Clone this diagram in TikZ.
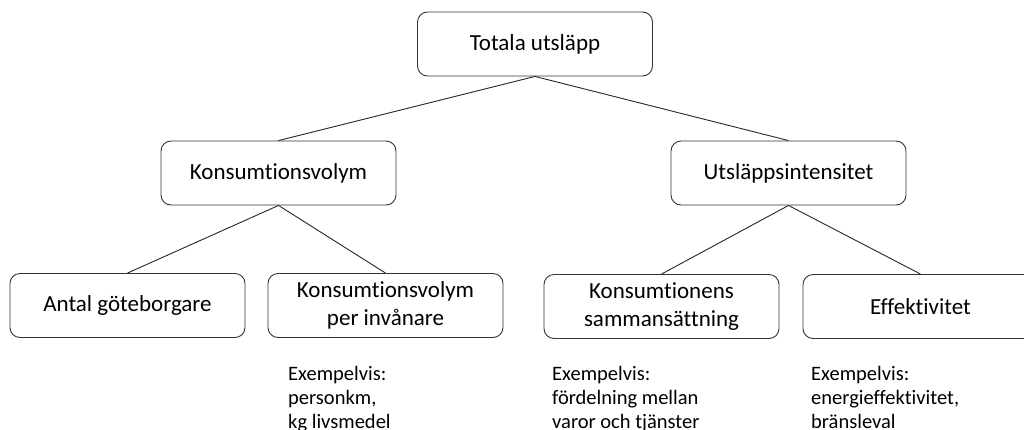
\documentclass[tikz,border=0pt]{standalone}
\usepackage{fontspec}
\setmainfont[Ligatures={NoCommon}]{Carlito}
\usetikzlibrary{shapes,arrows,positioning}

\begin{document}
\begin{tikzpicture}[x=1pt, y=1pt, auto]
    % Define styles
    \tikzstyle{box} = [rectangle, rounded corners=10pt, minimum width=235pt, minimum height=64pt, text centered, align=center, draw=black!80, line width=0.9pt, fill=white, font=\fontsize{23}{28}\selectfont]
    \tikzstyle{note} = [anchor=base west, align=left, inner sep=0pt, font=\fontsize{20.5}{24}\selectfont]
    \tikzstyle{edge} = [draw=black!85, line width=0.9pt]

    \useasboundingbox (0,0) rectangle (1024,-429);

    % Top
    \node [box] (total) at (535,-44) {Totala utsläpp};

    % Middle level
    \node [box, below of=total, node distance=129pt, xshift=-256.5pt] (konsum) {Konsumtionsvolym};
    \node [box, below of=total, node distance=129pt, xshift=253.5pt] (intens) {Utsläppsintensitet};

    % Bottom level
    \node [box, below of=konsum, node distance=132.5pt, xshift=-151pt] (antal) {Antal göteborgare};
    \node [box, below of=konsum, node distance=132.5pt, xshift=107pt] (perinv) {Konsumtionsvolym\\ per invånare};
    \node [box, below of=intens, node distance=133.5pt, xshift=-127pt] (samman) {Konsumtionens\\ sammansättning};
    \node [box, below of=intens, node distance=133.5pt, xshift=132pt] (effekt) {Effektivitet};

    % Examples (base = last line)
    \node [note] (exinv) at (288,-428) {Exempelvis:\\ personkm,\\ kg livsmedel};
    \node [note] (exsam) at (552,-428) {Exempelvis:\\ fördelning mellan\\ varor och tjänster};
    \node [note] (exeff) at (811,-428) {Exempelvis:\\ energieffektivitet,\\ bränsleval};

    % Connectors
    \draw [edge] (total.south) -- (konsum.north);
    \draw [edge] (total.south) -- (intens.north);
    \draw [edge] (konsum.south) -- (antal.north);
    \draw [edge] (konsum.south) -- (perinv.north);
    \draw [edge] (intens.south) -- (samman.north);
    \draw [edge] (intens.south) -- (effekt.north);

\end{tikzpicture}
\end{document}
